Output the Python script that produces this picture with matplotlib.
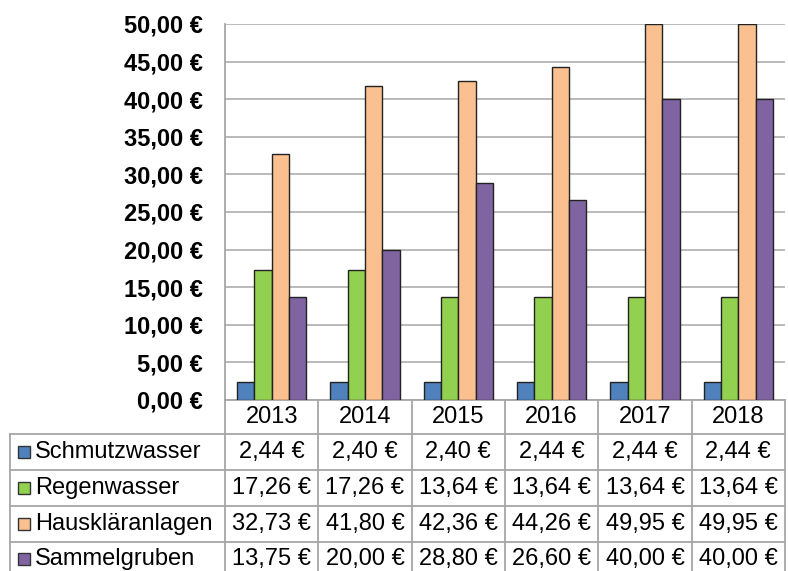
import matplotlib.pyplot as plt
import numpy as np

# === DATA ===
years = ["2013", "2014", "2015", "2016", "2017", "2018"]
series_names = ["Schmutzwasser", "Regenwasser", "Hauskläranlagen", "Sammelgruben"]
schmutzwasser = [2.44, 2.40, 2.40, 2.44, 2.44, 2.44]
regenwasser = [17.26, 17.26, 13.64, 13.64, 13.64, 13.64]
hausklaeranlagen = [32.73, 41.80, 42.36, 44.26, 49.95, 49.95]
sammelgruben = [13.75, 20.00, 28.80, 26.60, 40.00, 40.00]
colors = ["#4f81bd", "#92d050", "#fac090", "#8064a2"]

series = [schmutzwasser, regenwasser, hausklaeranlagen, sammelgruben]


def euro(v):
    return f"{v:.2f}".replace(".", ",") + " €"


plt.rcParams['font.family'] = ['Liberation Sans', 'DejaVu Sans']

W, H = 788, 571
fig = plt.figure(figsize=(W / 100, H / 100), dpi=100)

# plot area in pixels
L, R, T, B = 225, 785, 24, 400
ax = fig.add_axes([L / W, 1 - B / H, (R - L) / W, (B - T) / H])


def ax_xy(px, py):
    # pixel (from top-left) -> axes fraction
    return (px - L) / (R - L), (B - py) / (B - T)


x = np.arange(len(years))
bw = 0.185
for i, (vals, col) in enumerate(zip(series, colors)):
    ax.bar(x + (i - 1.5) * bw, vals, width=bw, color=col,
           edgecolor="#222222", linewidth=1.0, zorder=3)

ax.set_xlim(-0.5, len(years) - 0.5)
ax.set_ylim(0, 50)
ax.set_yticks(np.arange(0, 51, 5))
ax.set_yticklabels([euro(v) for v in np.arange(0, 51, 5)],
                   fontsize=17, fontweight="bold")
ax.set_xticks([])
ax.tick_params(axis="y", length=0, pad=16)
ax.yaxis.grid(True, color="#b4b4b4", linewidth=1.3, zorder=0)
for s in ["top", "right"]:
    ax.spines[s].set_visible(False)
for s in ["left", "bottom"]:
    ax.spines[s].set_color("#a6a6a6")
    ax.spines[s].set_linewidth(1.3)

# === DATA TABLE ===
grid_col = "#a6a6a6"
row_lines = [434, 470, 506, 542]
row_centers = [417, 452, 488, 524, 559]
table_bottom = 600

# vertical lines between categories
for k in range(len(years) + 1):
    xa = k / len(years)
    ax.plot([xa, xa], [ax_xy(0, B)[1], ax_xy(0, table_bottom)[1]],
            transform=ax.transAxes, color=grid_col, lw=1.3, clip_on=False)
# left border of row header column
x0 = ax_xy(10, 0)[0]
ax.plot([x0, x0], [ax_xy(0, row_lines[0])[1], ax_xy(0, table_bottom)[1]],
        transform=ax.transAxes, color=grid_col, lw=1.3, clip_on=False)
# horizontal lines
for yl in row_lines:
    ya = ax_xy(0, yl)[1]
    ax.plot([x0, 1], [ya, ya], transform=ax.transAxes, color=grid_col,
            lw=1.3, clip_on=False)

# year header
for k, yr in enumerate(years):
    ax.text((k + 0.5) / len(years), ax_xy(0, row_centers[0])[1], yr,
            transform=ax.transAxes, ha="center", va="center", fontsize=17,
            clip_on=False)

# series rows
for i, (name, vals, col) in enumerate(zip(series_names, series, colors)):
    yc = ax_xy(0, row_centers[i + 1])[1]
    kx0, ky0 = ax_xy(18, row_centers[i + 1] + 6)
    kx1, ky1 = ax_xy(30, row_centers[i + 1] - 6)
    ax.add_patch(plt.Rectangle((kx0, ky0), kx1 - kx0, ky1 - ky0,
                               transform=ax.transAxes, facecolor=col,
                               edgecolor="#333333", lw=1.0, clip_on=False))
    ax.text(ax_xy(35, 0)[0], yc, name, transform=ax.transAxes, ha="left",
            va="center", fontsize=17, clip_on=False)
    for k, v in enumerate(vals):
        ax.text((k + 0.5) / len(years), yc, euro(v), transform=ax.transAxes,
                ha="center", va="center", fontsize=17, clip_on=False)

fig.savefig("out.png", dpi=100)
